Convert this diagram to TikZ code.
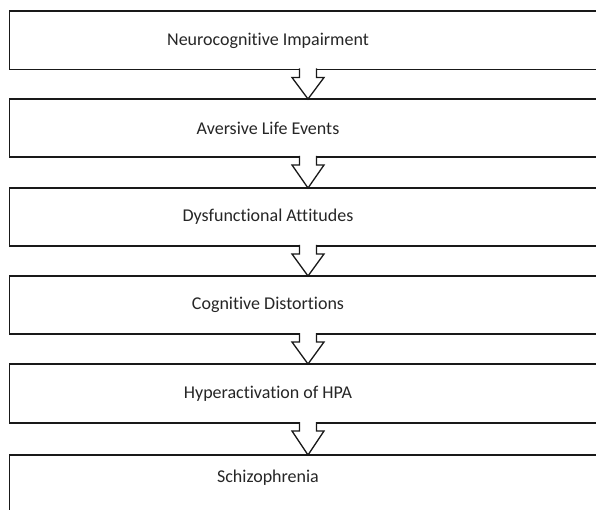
\documentclass[tikz,border=0pt]{standalone}
\usepackage{fontspec}
\setmainfont[Ligatures=NoCommon]{Carlito}
\usetikzlibrary{calc}
\tikzset{
  box/.style={draw=black!90, line width=1.6pt, rectangle, minimum width=600pt, minimum height=#1, anchor=north west, inner sep=0pt, outer sep=0pt},
  lbl/.style={font=\fontsize{18}{21}\selectfont, text=black!85, inner sep=0pt},
  arrowline/.style={draw=black!90, line width=1.3pt, line join=miter},
}
\newcommand{\blockarrow}[2]{%
  \fill[white] ($(ax|-#1.south)+(-8.5,-2)$) rectangle ($(ax|-#1.south)+(8.5,2)$);
  \draw[arrowline] ($(ax|-#1.south)+(-8.5,-1)$) -- ($(ax|-#1.south)+(-8.5,8)$) -- ($(ax|-#1.south)+(-16,8)$) -- (ax|-#2.north) -- ($(ax|-#1.south)+(16,8)$) -- ($(ax|-#1.south)+(8.5,8)$) -- ($(ax|-#1.south)+(8.5,-1)$);
}
\begin{document}
\begin{tikzpicture}[x=1pt,y=-1pt]
\useasboundingbox[fill=white] (0,0) rectangle (596,510);
\coordinate (ax) at (308,0);
\node[box=58.5pt] (b1) at (9.5,11) {};
\node[box=58pt] (b2) at (9.5,99) {};
\node[box=58pt] (b3) at (9.5,188) {};
\node[box=58pt] (b4) at (9.5,276) {};
\node[box=59pt] (b5) at (9.5,364) {};
\node[box=60pt] (b6) at (9.5,455) {};
\node[lbl] (t1) at (268,40.5) {Neurocognitive Impairment};
\node[lbl] (t2) at (268,128) {Aversive Life Events};
\node[lbl] (t3) at (268,217) {Dysfunctional Attitudes};
\node[lbl] (t4) at (268,305) {Cognitive Distortions};
\node[lbl] (t5) at (268,393.5) {Hyperactivation of HPA};
\node[lbl] (t6) at (268,478) {Schizophrenia};
\blockarrow{b1}{b2}
\blockarrow{b2}{b3}
\blockarrow{b3}{b4}
\blockarrow{b4}{b5}
\blockarrow{b5}{b6}
\end{tikzpicture}
\end{document}
